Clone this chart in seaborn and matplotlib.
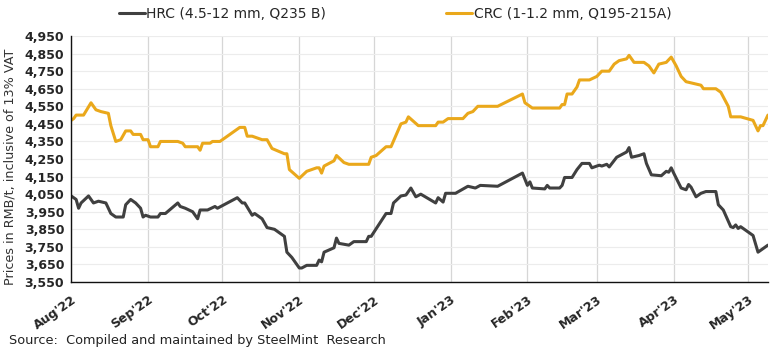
import pandas as pd
import matplotlib
matplotlib.use("Agg")
import matplotlib.pyplot as plt
import seaborn as sns

# HRC (4.5-12 mm, Q235 B), RMB/t
hrc_dates = [
    "2022-08-01", "2022-08-02", "2022-08-03", "2022-08-04", "2022-08-05", "2022-08-08",
    "2022-08-10", "2022-08-12", "2022-08-15", "2022-08-17", "2022-08-19", "2022-08-22",
    "2022-08-23", "2022-08-25", "2022-08-27", "2022-08-29", "2022-08-30", "2022-08-31",
    "2022-09-02", "2022-09-05", "2022-09-06", "2022-09-08", "2022-09-13", "2022-09-14",
    "2022-09-16", "2022-09-19", "2022-09-21", "2022-09-22", "2022-09-25", "2022-09-28",
    "2022-09-29", "2022-10-03", "2022-10-07", "2022-10-09", "2022-10-10", "2022-10-13",
    "2022-10-14", "2022-10-17", "2022-10-19", "2022-10-22", "2022-10-26", "2022-10-27",
    "2022-10-29", "2022-11-01", "2022-11-02", "2022-11-04", "2022-11-08", "2022-11-09",
    "2022-11-10", "2022-11-11", "2022-11-15", "2022-11-16", "2022-11-17", "2022-11-21",
    "2022-11-23", "2022-11-28", "2022-11-29", "2022-11-30", "2022-12-06", "2022-12-08",
    "2022-12-09", "2022-12-12", "2022-12-14", "2022-12-16", "2022-12-18", "2022-12-20",
    "2022-12-26", "2022-12-27", "2022-12-29", "2022-12-30", "2023-01-03", "2023-01-08",
    "2023-01-11", "2023-01-13", "2023-01-20", "2023-01-30", "2023-02-01", "2023-02-02",
    "2023-02-03", "2023-02-08", "2023-02-09", "2023-02-10", "2023-02-14", "2023-02-15",
    "2023-02-16", "2023-02-19", "2023-02-21", "2023-02-23", "2023-02-26", "2023-02-27",
    "2023-03-02", "2023-03-03", "2023-03-05", "2023-03-06", "2023-03-09", "2023-03-13",
    "2023-03-14", "2023-03-15", "2023-03-18", "2023-03-20", "2023-03-21", "2023-03-23",
    "2023-03-27", "2023-03-29", "2023-03-30", "2023-03-31", "2023-04-01", "2023-04-04",
    "2023-04-06", "2023-04-07", "2023-04-08", "2023-04-10", "2023-04-12", "2023-04-14",
    "2023-04-18", "2023-04-19", "2023-04-21", "2023-04-24", "2023-04-25", "2023-04-26",
    "2023-04-27", "2023-04-28", "2023-05-03", "2023-05-05", "2023-05-07", "2023-05-09",
]
hrc_values = [
    4040, 4030, 4020, 3970, 4000, 4040,
    4000, 4010, 4000, 3940, 3920, 3920,
    3990, 4020, 4000, 3970, 3920, 3930,
    3920, 3920, 3940, 3940, 4000, 3980,
    3970, 3950, 3910, 3960, 3960, 3980,
    3970, 4000, 4030, 4000, 4000, 3930,
    3940, 3910, 3860, 3850, 3810, 3720,
    3690, 3630, 3630, 3645, 3645, 3675,
    3665, 3720, 3745, 3800, 3770, 3760,
    3780, 3780, 3810, 3810, 3940, 3940,
    4000, 4040, 4045, 4085, 4035, 4050,
    4000, 4030, 4005, 4055, 4055, 4095,
    4085, 4100, 4095, 4170, 4100, 4120,
    4085, 4080, 4100, 4085, 4085, 4100,
    4145, 4145, 4190, 4225, 4225, 4200,
    4215, 4210, 4220, 4205, 4260, 4290,
    4315, 4260, 4270, 4280, 4225, 4160,
    4155, 4180, 4175, 4200, 4170, 4085,
    4075, 4105, 4090, 4035, 4055, 4065,
    4065, 3990, 3960, 3865, 3860, 3875,
    3855, 3865, 3815, 3720, 3740, 3760,
]

# CRC (1-1.2 mm, Q195-215A), RMB/t
crc_dates = [
    "2022-08-01", "2022-08-02", "2022-08-03", "2022-08-06", "2022-08-09", "2022-08-11",
    "2022-08-13", "2022-08-16", "2022-08-17", "2022-08-19", "2022-08-21", "2022-08-23",
    "2022-08-25", "2022-08-26", "2022-08-29", "2022-08-30", "2022-09-01", "2022-09-02",
    "2022-09-05", "2022-09-06", "2022-09-13", "2022-09-15", "2022-09-16", "2022-09-21",
    "2022-09-22", "2022-09-23", "2022-09-26", "2022-09-27", "2022-09-30", "2022-10-08",
    "2022-10-10", "2022-10-11", "2022-10-13", "2022-10-17", "2022-10-19", "2022-10-21",
    "2022-10-26", "2022-10-27", "2022-10-28", "2022-11-01", "2022-11-04", "2022-11-08",
    "2022-11-09", "2022-11-10", "2022-11-11", "2022-11-15", "2022-11-16", "2022-11-19",
    "2022-11-21", "2022-11-29", "2022-11-30", "2022-12-02", "2022-12-06", "2022-12-08",
    "2022-12-12", "2022-12-14", "2022-12-15", "2022-12-19", "2022-12-26", "2022-12-27",
    "2022-12-29", "2022-12-31", "2023-01-06", "2023-01-08", "2023-01-10", "2023-01-12",
    "2023-01-20", "2023-01-30", "2023-01-31", "2023-02-01", "2023-02-03", "2023-02-14",
    "2023-02-15", "2023-02-16", "2023-02-17", "2023-02-19", "2023-02-21", "2023-02-22",
    "2023-02-26", "2023-03-01", "2023-03-03", "2023-03-06", "2023-03-08", "2023-03-10",
    "2023-03-13", "2023-03-14", "2023-03-16", "2023-03-20", "2023-03-22", "2023-03-24",
    "2023-03-26", "2023-03-29", "2023-03-31", "2023-04-02", "2023-04-04", "2023-04-06",
    "2023-04-12", "2023-04-13", "2023-04-18", "2023-04-20", "2023-04-23", "2023-04-24",
    "2023-04-28", "2023-05-03", "2023-05-05", "2023-05-06", "2023-05-07", "2023-05-09",
]
crc_values = [
    4470, 4480, 4500, 4500, 4570, 4530,
    4520, 4510, 4440, 4350, 4360, 4410,
    4410, 4390, 4390, 4360, 4360, 4320,
    4320, 4350, 4350, 4340, 4320, 4320,
    4300, 4340, 4340, 4350, 4350, 4430,
    4430, 4380, 4380, 4360, 4360, 4310,
    4280, 4280, 4190, 4140, 4180, 4200,
    4200, 4170, 4210, 4240, 4270, 4230,
    4220, 4220, 4260, 4270, 4320, 4320,
    4450, 4460, 4490, 4440, 4440, 4460,
    4460, 4480, 4480, 4510, 4520, 4550,
    4550, 4620, 4570, 4560, 4540, 4540,
    4560, 4560, 4620, 4620, 4660, 4700,
    4700, 4720, 4750, 4750, 4790, 4810,
    4820, 4840, 4800, 4800, 4780, 4740,
    4790, 4800, 4830, 4780, 4720, 4690,
    4670, 4650, 4650, 4630, 4550, 4490,
    4490, 4470, 4410, 4440, 4440, 4500,
]

month_ticks = ["2022-08-01", "2022-09-01", "2022-10-01", "2022-11-01", "2022-12-01",
               "2023-01-01", "2023-02-01", "2023-03-01", "2023-04-01", "2023-05-01"]
month_labels = ["Aug'22", "Sep'22", "Oct'22", "Nov'22", "Dec'22",
                "Jan'23", "Feb'23", "Mar'23", "Apr'23", "May'23"]
y_ticks = list(range(3550, 4951, 100))

hrc = pd.DataFrame({"date": pd.to_datetime(hrc_dates), "price": hrc_values})
crc = pd.DataFrame({"date": pd.to_datetime(crc_dates), "price": crc_values})

sns.set_style("white")
plt.rcParams["font.family"] = ["DejaVu Sans"]

fig = plt.figure(figsize=(7.82, 3.53), dpi=100)
ax = fig.add_axes([0.091, 0.201, 0.891, 0.697])

hrc_color = "#404040"
crc_color = "#EAA81B"
sns.lineplot(data=hrc, x="date", y="price", ax=ax, color=hrc_color, linewidth=2.2,
             label="HRC (4.5-12 mm, Q235 B)")
sns.lineplot(data=crc, x="date", y="price", ax=ax, color=crc_color, linewidth=2.2,
             label="CRC (1-1.2 mm, Q195-215A)")

ax.set_xlim(pd.Timestamp("2022-08-01"), pd.Timestamp("2023-05-09"))
ax.set_ylim(3550, 4950)
ax.set_yticks(y_ticks)
ax.set_yticklabels([f"{v:,}" for v in y_ticks], fontweight="bold", fontsize=9)
ax.set_xticks(pd.to_datetime(month_ticks))
ax.set_xticklabels(month_labels, rotation=35, ha="right", rotation_mode="anchor",
                   fontweight="bold", fontsize=9)
ax.tick_params(axis="x", length=4, width=0.8, color="#222222", pad=4)
ax.tick_params(axis="y", length=3, width=0.8, color="#222222", pad=2)

ax.grid(axis="y", color="#ececec", linewidth=0.8)
ax.grid(axis="x", color="#d6d6d6", linewidth=0.9)
ax.set_axisbelow(True)

for side in ["top", "right"]:
    ax.spines[side].set_visible(False)
for side in ["left", "bottom"]:
    ax.spines[side].set_color("#111111")
    ax.spines[side].set_linewidth(1.0)

ax.set_xlabel("")
ax.set_ylabel("Prices in RMB/t, inclusive of 13% VAT", fontsize=9.2, color="#333333")
ax.yaxis.set_label_coords(-0.079, 0.47)

ax.legend_.remove()
handles, labels = ax.get_legend_handles_labels()
fig.legend(handles, labels, loc="upper center", bbox_to_anchor=(0.505, 1.015), ncol=2,
           frameon=False, fontsize=10, handlelength=1.9, handletextpad=0.1,
           columnspacing=8.6)

fig.text(0.011, 0.025, "Source:  Compiled and maintained by SteelMint  Research",
         fontsize=9.3, color="#222222")

fig.savefig("out.png", dpi=100)
